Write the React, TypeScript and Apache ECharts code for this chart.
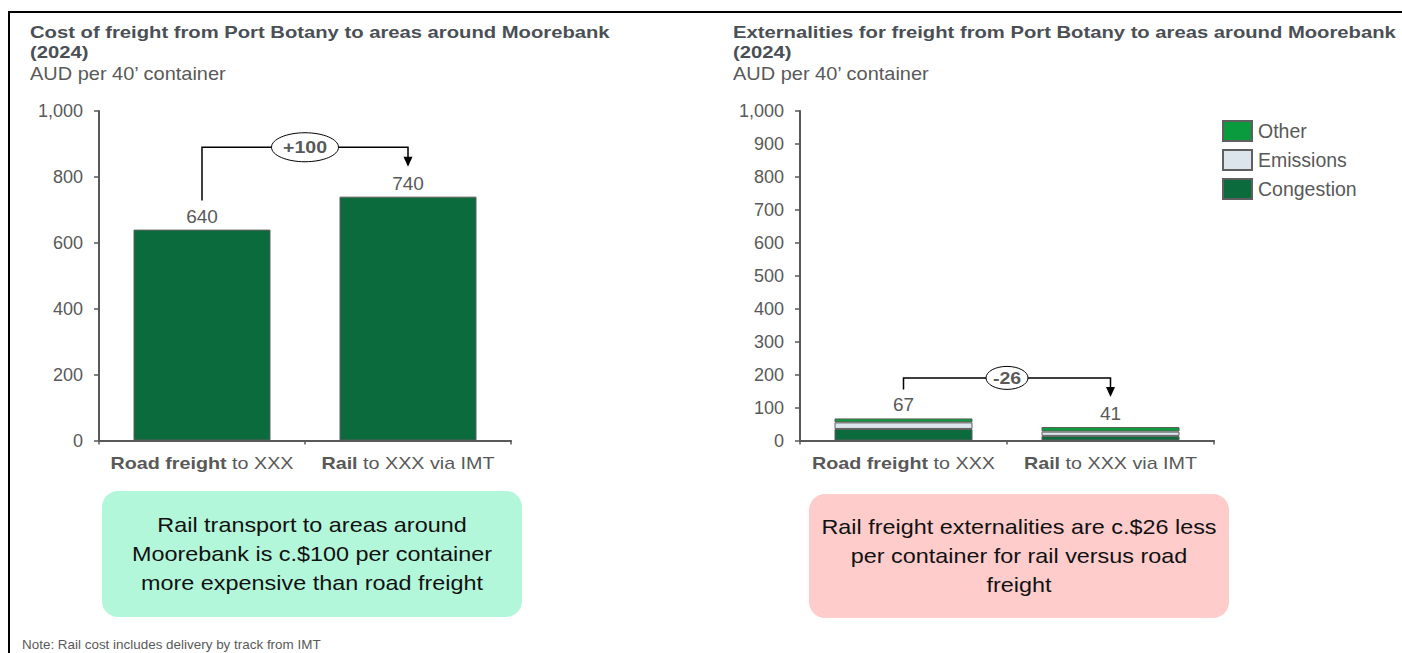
import React, { useEffect, useRef } from "react";
import * as echarts from "echarts";

// ---- Data ----
const categoryBold = ["Road freight", "Rail"];
const categoryRest = [" to XXX", " to XXX via IMT"];
const costValues = [640, 740];
const congestion = [35, 14];
const emissions = [20, 13];
const other = [12, 14];
const costDeltaLabel = "+100";
const extDeltaLabel = "-26";
const costBracketLevel = 890;
const extBracketLevel = 190;
const costTickInterval = 200;
const extTickInterval = 100;
const axisMax = 1000;

const titleLeft = ["Cost of freight from Port Botany to areas around Moorebank", "(2024)"];
const titleRight = ["Externalities for freight from Port Botany to areas around Moorebank", "(2024)"];
const unitText = "AUD per 40\u2019 container";
const boxLeftLines = [
  "Rail transport to areas around",
  "Moorebank is c.$100 per container",
  "more expensive than road freight",
];
const boxRightLines = [
  "Rail freight externalities are c.$26 less",
  "per container for rail versus road",
  "freight",
];
const noteText = "Note: Rail cost includes delivery by track from IMT";

const FONT = '"Liberation Sans", Arial, sans-serif';
const GREY = "#595959";
const TITLE = "#4a4f55";
const DARK = "#0b6b3c";
const LIGHT = "#dce4ec";
const GREEN = "#0a9b3f";
const BORDER = "#5f5f5f";

const catLabels = categoryBold.map((b, i) => `${b}${categoryRest[i]}`);

function xAxisCfg(gridIndex: number) {
  return {
    type: "category",
    gridIndex,
    data: catLabels,
    axisLine: { lineStyle: { color: GREY, width: 2 } },
    axisTick: { show: true, length: 4, lineStyle: { color: GREY, width: 1.5 } },
    axisLabel: { show: false },
  };
}

function yAxisCfg(gridIndex: number, interval: number) {
  return {
    type: "value",
    gridIndex,
    min: 0,
    max: axisMax,
    interval,
    splitLine: { show: false },
    axisLine: { show: true, lineStyle: { color: GREY, width: 2 } },
    axisTick: { show: true, length: 5, lineStyle: { color: GREY, width: 1.5 } },
    axisLabel: {
      margin: 16,
      color: GREY,
      fontSize: 18,
      fontFamily: FONT,
      formatter: (v: number) => v.toLocaleString("en-US"),
    },
  };
}

const totals = congestion.map((c, i) => c + emissions[i] + other[i]);

export default function App() {
  const ref = useRef<HTMLDivElement>(null);
  useEffect(() => {
    if (!ref.current) return;
    const chart = echarts.init(ref.current, null, { renderer: "svg" });
    const barItem = (color: string) => ({ color, borderColor: BORDER, borderWidth: 1 });
    const labelCfg = {
      show: true,
      position: "top",
      distance: 4,
      color: GREY,
      fontSize: 19,
      fontFamily: FONT,
    };
    chart.setOption({
      animation: false,
      textStyle: { fontFamily: FONT },
      grid: [
        { left: 99, top: 111, width: 412, height: 329.5, containLabel: false },
        { left: 800, top: 111, width: 414, height: 329.5, containLabel: false },
      ],
      xAxis: [xAxisCfg(0), xAxisCfg(1)],
      yAxis: [yAxisCfg(0, costTickInterval), yAxisCfg(1, extTickInterval)],
      legend: {
        data: ["Other", "Emissions", "Congestion"],
        orient: "vertical",
        left: 1222,
        top: 120,
        padding: 0,
        itemWidth: 29,
        itemHeight: 20,
        itemGap: 7,
        icon: "rect",
        textStyle: { color: GREY, fontSize: 19.5, fontFamily: FONT, padding: [0, 0, 0, 1] },
      },
      series: [
        {
          name: "Cost",
          type: "bar",
          xAxisIndex: 0,
          yAxisIndex: 0,
          data: costValues,
          barWidth: 137,
          itemStyle: barItem(DARK),
          label: labelCfg,
        },
        {
          name: "Congestion",
          type: "bar",
          stack: "ext",
          xAxisIndex: 1,
          yAxisIndex: 1,
          data: congestion,
          barWidth: 138,
          itemStyle: barItem(DARK),
        },
        {
          name: "Emissions",
          type: "bar",
          stack: "ext",
          xAxisIndex: 1,
          yAxisIndex: 1,
          data: emissions,
          barWidth: 138,
          itemStyle: barItem(LIGHT),
        },
        {
          name: "Other",
          type: "bar",
          stack: "ext",
          xAxisIndex: 1,
          yAxisIndex: 1,
          data: other,
          barWidth: 138,
          itemStyle: barItem(GREEN),
          label: { ...labelCfg, formatter: (p: any) => String(totals[p.dataIndex]) },
        },
      ],
    });

    const px = (gi: number, ci: number, v: number) =>
      chart.convertToPixel({ xAxisIndex: gi, yAxisIndex: gi } as any, [ci, v]) as number[];

    const txt = (
      x: number,
      y: number,
      text: string,
      size: number,
      weight: string,
      color: string,
      align = "left",
      sx = 1,
      extra: any = {}
    ) => ({
      type: "text",
      x,
      y,
      scaleX: sx,
      z: 12,
      style: {
        text,
        fill: color,
        fontSize: size,
        fontWeight: weight,
        fontFamily: FONT,
        textAlign: align,
        textVerticalAlign: "middle",
        ...extra,
      },
    });

    const bracket = (
      gi: number,
      fromVal: number,
      toVal: number,
      level: number,
      label: string,
      rx: number,
      ry: number
    ) => {
      const a = px(gi, 0, fromVal);
      const b = px(gi, 1, toVal);
      const lv = px(gi, 0, level)[1];
      const startY = a[1] - 29;
      const tipY = b[1] - 30;
      const midX = (a[0] + b[0]) / 2;
      return [
        {
          type: "polyline",
          shape: { points: [[a[0], startY], [a[0], lv], [b[0], lv], [b[0], tipY - 9]] },
          style: { stroke: "#000", lineWidth: 1.5, fill: null },
          z: 10,
        },
        {
          type: "polygon",
          shape: { points: [[b[0] - 4.5, tipY - 10], [b[0] + 4.5, tipY - 10], [b[0], tipY]] },
          style: { fill: "#000" },
          z: 10,
        },
        {
          type: "ellipse",
          shape: { cx: midX, cy: lv, rx, ry },
          style: { fill: "#fff", stroke: "#000", lineWidth: 1 },
          z: 11,
        },
        txt(midX, lv, label, 17, "bold", GREY, "center", 1.15),
      ];
    };

    const catText = (gi: number) =>
      categoryBold.map((b, i) => {
        const p = px(gi, i, 0);
        return txt(p[0], p[1] + 22.5, `{b|${b}}{r|${categoryRest[i]}}`, 17, "normal", GREY, "center", 1.16, {
          rich: {
            b: { fontWeight: "bold", fontSize: 17, fill: GREY, fontFamily: FONT },
            r: { fontWeight: "normal", fontSize: 17, fill: GREY, fontFamily: FONT },
          },
        });
      });

    const box = (x: number, y: number, w: number, h: number, fill: string, lines: string[]) => {
      const cx = x + w / 2;
      const lh = 29;
      const cy = y + h / 2;
      return [
        { type: "rect", shape: { x, y, width: w, height: h, r: 16 }, style: { fill } },
        ...lines.map((l, i) =>
          txt(cx, cy + (i - (lines.length - 1) / 2) * lh, l, 20, "normal", "#111", "center", 1.17)
        ),
      ];
    };

    const elements: any[] = [
      { type: "line", shape: { x1: 9, y1: 12, x2: 1402, y2: 12 }, style: { stroke: "#000", lineWidth: 2 } },
      { type: "line", shape: { x1: 9, y1: 11, x2: 9, y2: 653 }, style: { stroke: "#000", lineWidth: 2 } },
      txt(30, 32, titleLeft[0], 17, "bold", TITLE, "left", 1.19),
      txt(30, 52, titleLeft[1], 17, "bold", TITLE, "left", 1.19),
      txt(30, 74, unitText, 18, "normal", GREY, "left", 1.11),
      txt(733, 32, titleRight[0], 17, "bold", TITLE, "left", 1.19),
      txt(733, 52, titleRight[1], 17, "bold", TITLE, "left", 1.19),
      txt(733, 74, unitText, 18, "normal", GREY, "left", 1.11),
      ...catText(0),
      ...catText(1),
      ...bracket(0, costValues[0], costValues[1], costBracketLevel, costDeltaLabel, 33.5, 14.5),
      ...bracket(1, totals[0], totals[1], extBracketLevel, extDeltaLabel, 21, 11.5),
      ...box(102, 491, 420, 126, "#b3f7da", boxLeftLines),
      ...box(809, 494, 420, 124, "#ffcccc", boxRightLines),
      txt(22, 645, noteText, 12, "normal", GREY, "left", 1.12),
    ];
    chart.setOption({ graphic: { elements } });

    return () => chart.dispose();
  }, []);
  return (
    <div
      ref={ref}
      style={{ position: "fixed", left: 0, top: 0, width: 1402, height: 653, background: "#fff" }}
    />
  );
}
